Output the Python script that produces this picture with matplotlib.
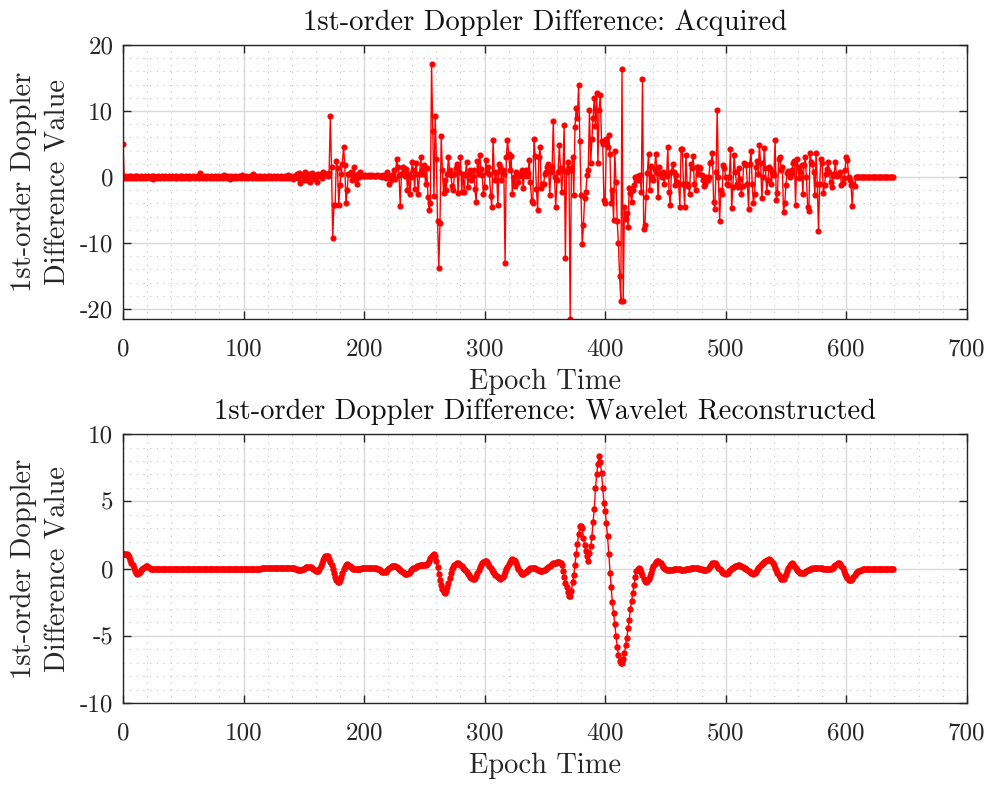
import numpy as np
import matplotlib
matplotlib.use('Agg')
import matplotlib.pyplot as plt
from matplotlib.ticker import MultipleLocator

plt.rcParams['font.family'] = 'cmr10'
plt.rcParams['axes.unicode_minus'] = False

# acquired 1st-order Doppler difference, epochs 0..170 (quiet part)
acq_quiet = [5.0,
    -0.2, 0.1, -0.1, 0.0, 0.2, -0.1, 0.1, -0.2, 0.0, 0.1,
    -0.1, 0.2, 0.0, -0.2, 0.1, 0.0, -0.1, 0.2, -0.1, 0.0,
    0.1, -0.2, 0.0, 0.1, -0.3, 0.1, 0.0, -0.1, 0.2, 0.0,
    -0.1, 0.1, 0.0, -0.2, 0.2, 0.0, -0.1, 0.1, 0.0, -0.2,
    0.1, 0.0, -0.1, 0.2, -0.1, 0.0, 0.1, -0.2, 0.1, 0.0,
    -0.1, 0.2, 0.0, -0.2, 0.1, -0.1, 0.0, 0.1, 0.0, -0.1,
    0.2, 0.0, -0.1, 0.6, 0.0, -0.2, 0.1, 0.0, -0.1, 0.2,
    0.0, -0.2, 0.1, 0.0, -0.1, 0.1, -0.2, 0.0, 0.2, -0.1,
    0.0, 0.1, -0.2, 0.3, 0.0, -0.1, 0.1, 0.0, -0.3, 0.1,
    0.0, -0.1, 0.2, 0.0, -0.1, 0.1, 0.0, -0.2, 0.3, 0.0,
    -0.1, 0.1, 0.0, -0.2, 0.2, 0.0, -0.1, 0.4, 0.0, -0.2,
    0.1, 0.0, -0.1, 0.2, -0.1, 0.0, 0.1, -0.2, 0.0, 0.1,
    -0.1, 0.2, 0.0, -0.1, 0.1, 0.0, -0.2, 0.1, 0.0, -0.1,
    0.2, 0.0, -0.1, 0.1, -0.2, 0.0, 0.3, -0.1, 0.1, 0.0,
    -0.3, 0.2, 0.0, 0.4, -0.2, 0.6, -0.9, 0.3, 0.5, -0.4,
    0.7, 0.1, -0.5, 0.4, -0.8, 0.2, 0.6, 0.0, -0.3, 0.3,
    -0.8, 0.4, 0.2, 0.5, -0.2, 0.7, 0.3, 0.5, 0.4, 0.2]

# epochs 171..311
acq_part2 = [
    0.6, 9.2, 1.5, -9.2, -4.3, -4.3, 2.5, 1.3, -4.3, -1.2,
    0.5, 2.0, 4.6, 1.8, -4.0, -2.0, 0.5, 0.5, 0.8, -0.5,
    0.3, 1.5, -0.3, -1.0, 0.5, 0.0, 0.8, 0.3, 0.2, 0.1,
    0.3, 0.2, 0.2, 0.3, 0.1, 0.2, 0.3, 0.2, 0.1, 0.2,
    0.3, 0.1, 0.2, 0.2, 0.0, 0.3, 0.1, -0.2, 0.8, 0.2,
    -1.0, -0.5, 0.3, 0.0, 1.0, -0.3, 2.7, 1.5, 0.3, -4.4,
    0.5, 1.5, 0.5, 0.2, 1.2, -2.0, 0.5, -2.5, 0.0, 2.3,
    1.0, -1.8, 2.2, 0.5, -2.5, 0.5, 3.0, 1.0, 0.5, 1.8,
    -1.0, 1.3, -3.0, -5.0, -4.0, 17.2, 7.0, -2.8, 9.2, 2.8,
    -6.7, -13.7, -7.0, 6.2, 1.0, -2.4, -0.5, -2.0, 0.5, 3.0,
    1.0, 0.3, -1.3, -2.0, 0.5, 1.4, 2.0, -2.4, 0.8, 3.0,
    -2.2, 0.5, -2.2, 0.3, 2.3, -1.5, 0.5, 1.0, -0.5, 0.2,
    1.0, -1.8, -3.8, 2.5, 0.5, 3.4, 1.2, 0.3, -2.5, -1.5,
    2.6, 0.8, 1.6, 0.5, -2.8, -4.5, 5.6, 0.8, -0.5, 0.8,
    -4.3]

# epochs 312..461
acq_part3 = [
    2.0, 1.6, -0.5, 1.0, 0.5, -13.0, 3.0, 5.6, 3.5, 1.0,
    3.2, -2.6, 0.0, -1.3, 0.8, 0.5, -0.8, 0.4, 0.2, 1.0,
    -1.6, 0.3, 1.0, 0.2, 0.6, 2.6, -0.7, -3.6, -4.0, 5.8,
    3.2, -1.8, -5.0, 3.0, 4.5, -1.7, -1.1, -1.0, 0.5, 0.8,
    1.5, 2.0, -2.7, 0.8, 1.5, 8.5, 0.0, -4.6, -0.5, 0.8,
    4.8, 1.4, -2.3, 1.0, 7.9, -12.3, 0.8, 2.3, 1.3, -21.5,
    1.0, 3.0, -2.7, 7.6, 10.5, 9.0, 14.0, 5.4, -2.7, -10.2,
    -7.3, -3.1, -2.2, 0.3, 1.0, 10.2, 2.2, 5.7, 9.0, 12.0,
    7.8, 12.8, 2.1, 10.2, 12.5, 5.5, 5.0, -3.5, -4.0, 5.7,
    4.5, 6.3, 3.5, -4.0, -2.0, -6.5, 4.0, -0.8, -6.7, -10.0,
    -15.0, -18.7, 16.4, -18.8, -4.5, -6.3, -5.4, -7.5, -1.6, -2.4,
    -3.8, -2.0, -1.2, 0.0, -0.5, 0.2, -0.5, 0.3, -2.3, 14.8,
    -7.9, -7.3, -3.0, 0.6, 3.5, -2.0, 1.7, 0.0, -0.5, 1.2,
    3.5, 0.6, -3.0, 1.5, 0.5, 0.0, 0.8, -1.0, 0.5, 0.2,
    4.6, -2.3, -4.2, 0.8, 2.0, 0.8, -1.2, 0.3, -0.8, -1.0]

# epochs 462..607
acq_part4 = [
    -4.5, 4.2, 4.2, -1.0, -4.5, 3.4, -1.0, -1.3, -2.5, 2.0,
    1.4, 3.2, -1.0, -2.0, 1.6, 0.5, 1.5, 1.3, 0.3, -0.5,
    -1.3, -1.0, 0.0, -0.5, 0.0, 2.2, 2.3, 3.7, -3.8, -4.8,
    0.8, 10.2, 0.0, -6.6, -2.0, -2.6, 1.8, 1.4, 0.0, -1.0,
    -1.2, 0.0, 4.2, -4.7, -1.5, 3.4, 0.8, -1.0, -1.5, 1.3,
    -0.3, -2.6, -1.3, 2.2, 2.0, 1.8, -1.0, -4.8, 2.0, 4.0,
    -1.0, -4.0, -2.6, 1.5, 2.5, 0.5, 4.9, 2.1, -3.2, 0.0,
    4.4, 1.3, -2.2, -0.5, 1.5, 1.2, -1.0, 0.8, 0.3, 5.6,
    -3.5, -2.4, 2.7, 3.1, 1.0, 1.5, -5.3, -4.0, -1.2, 0.6,
    0.9, 0.0, 0.5, 1.0, 2.2, 2.5, -4.2, 2.8, 1.5, -0.2,
    0.8, 1.8, -2.5, 1.8, 3.0, 0.0, -4.5, -5.2, 3.6, 2.3,
    2.0, 0.7, -2.7, 3.6, -1.0, -8.2, -1.0, 2.7, 2.2, -2.4,
    -1.2, 0.5, 1.2, 2.3, 0.8, -0.8, -1.5, 0.2, 0.5, 2.3,
    0.2, 0.5, 0.3, 0.8, -1.2, -0.9, -0.2, 1.0, 3.0, 2.6,
    0.0, -0.5, -1.2, -4.4, -1.0, -1.3]

# epochs 608..639 (flat tail)
acq_tail = [
    0.0, 0.0, 0.0, 0.0, 0.0, 0.0, 0.0, 0.0, 0.0, 0.0,
    0.0, 0.0, 0.0, 0.0, 0.0, 0.0, 0.0, 0.0, 0.0, 0.0,
    0.0, 0.0, 0.0, 0.0, 0.0, 0.0, 0.0, 0.0, 0.0, 0.0,
    0.0, 0.0]

# wavelet reconstructed series, epochs 0..639
wavelet = [
    1.10, 1.12, 1.12, 1.08, 1.00, 0.85, 0.65, 0.45, 0.25, 0.05,
    -0.15, -0.33, -0.40, -0.35, -0.22, -0.10, 0.00, 0.08, 0.15, 0.18,
    0.17, 0.12, 0.06, 0.00, -0.04, -0.06, -0.06, -0.05, -0.04, -0.03,
    -0.03, -0.02, -0.02, -0.02, -0.01, -0.01, -0.01, -0.01, 0.00, 0.00,
    0.00, 0.00, 0.00, 0.00, 0.00, 0.00, 0.00, 0.00, 0.00, 0.00,
    0.00, 0.00, 0.00, 0.00, 0.00, 0.00, 0.00, 0.00, 0.00, 0.00,
    0.00, 0.00, 0.00, 0.00, 0.00, 0.00, 0.00, 0.00, 0.00, 0.00,
    0.00, 0.00, 0.00, 0.00, 0.00, 0.00, 0.00, 0.00, 0.00, 0.00,
    0.00, 0.00, 0.00, 0.00, 0.00, 0.00, 0.00, 0.00, 0.00, 0.00,
    0.00, 0.00, 0.00, 0.00, 0.00, 0.00, 0.00, 0.00, 0.00, 0.00,
    0.00, 0.00, 0.00, 0.00, 0.00, 0.00, 0.00, 0.00, 0.00, 0.00,
    0.00, 0.00, 0.00, 0.00, 0.00, 0.01, 0.01, 0.01, 0.01, 0.01,
    0.01, 0.01, 0.01, 0.01, 0.01, 0.01, 0.02, 0.02, 0.02, 0.02,
    0.02, 0.02, 0.02, 0.03, 0.03, 0.03, 0.04, 0.04, 0.05, 0.05,
    0.05, 0.05, 0.03, 0.00, -0.04, -0.08, -0.10, -0.10, -0.08, -0.04,
    0.00, 0.05, 0.09, 0.11, 0.12, 0.12, 0.10, 0.05, -0.02, -0.10,
    -0.17, -0.20, -0.18, -0.05, 0.18, 0.42, 0.65, 0.82, 0.93, 0.96,
    0.90, 0.75, 0.52, 0.25, -0.02, -0.32, -0.62, -0.86, -0.98, -1.00,
    -0.85, -0.60, -0.30, -0.05, 0.15, 0.27, 0.32, 0.30, 0.22, 0.13,
    0.05, 0.00, -0.03, -0.05, -0.05, -0.04, -0.02, 0.00, 0.02, 0.04,
    0.05, 0.06, 0.07, 0.07, 0.07, 0.06, 0.05, 0.05, 0.04, 0.04,
    0.03, 0.00, -0.05, -0.11, -0.18, -0.23, -0.26, -0.26, -0.22, -0.14,
    -0.05, 0.04, 0.12, 0.18, 0.21, 0.22, 0.20, 0.15, 0.08, 0.00,
    -0.09, -0.18, -0.27, -0.34, -0.39, -0.40, -0.37, -0.30, -0.22, -0.13,
    -0.05, 0.02, 0.07, 0.12, 0.17, 0.21, 0.25, 0.27, 0.28, 0.29,
    0.30, 0.30, 0.33, 0.42, 0.58, 0.76, 0.92, 1.02, 1.05, 0.90,
    0.55, 0.10, -0.40, -0.85, -1.25, -1.55, -1.75, -1.82, -1.70, -1.40,
    -1.05, -0.70, -0.35, -0.05, 0.15, 0.28, 0.36, 0.40, 0.40, 0.36,
    0.28, 0.18, 0.08, -0.03, -0.14, -0.26, -0.38, -0.50, -0.60, -0.68,
    -0.74, -0.75, -0.68, -0.52, -0.32, -0.10, 0.10, 0.28, 0.42, 0.51,
    0.55, 0.54, 0.47, 0.36, 0.22, 0.08, -0.07, -0.22, -0.36, -0.48,
    -0.58, -0.66, -0.72, -0.75, -0.73, -0.62, -0.45, -0.25, -0.05, 0.15,
    0.35, 0.52, 0.65, 0.70, 0.66, 0.55, 0.38, 0.18, -0.02, -0.20,
    -0.33, -0.40, -0.40, -0.35, -0.27, -0.18, -0.10, -0.03, 0.03, 0.06,
    0.07, 0.05, 0.01, -0.04, -0.09, -0.13, -0.16, -0.17, -0.16, -0.12,
    -0.07, -0.01, 0.06, 0.13, 0.20, 0.27, 0.33, 0.38, 0.42, 0.45,
    0.48, 0.50, 0.50, 0.42, 0.25, -0.15, -0.60, -1.05, -1.40, -1.75,
    -2.00, -2.00, -1.70, -1.00, -0.45, 0.30, 1.05, 1.80, 2.60, 3.15,
    3.20, 3.05, 2.30, 1.75, 1.30, 0.95, 0.60, 1.15, 1.65, 2.35,
    3.50, 4.40, 6.00, 7.00, 7.80, 8.40, 7.95, 7.10, 6.00, 4.90,
    4.30, 3.40, 2.40, 1.10, -0.30, -1.40, -2.50, -3.30, -4.10, -5.00,
    -5.80, -6.45, -6.85, -7.00, -7.00, -6.75, -6.30, -5.70, -5.15, -4.40,
    -3.80, -3.00, -2.40, -1.80, -1.20, -0.60, -0.20, 0.00, 0.02, -0.05,
    -0.25, -0.50, -0.75, -0.92, -1.00, -0.95, -0.78, -0.55, -0.30, -0.05,
    0.18, 0.36, 0.50, 0.57, 0.58, 0.50, 0.38, 0.25, 0.12, 0.02,
    -0.06, -0.10, -0.12, -0.12, -0.11, -0.09, -0.07, -0.06, -0.05, -0.05,
    -0.05, -0.05, -0.06, -0.07, -0.07, -0.07, -0.07, -0.06, -0.05, -0.03,
    -0.01, 0.01, 0.03, 0.04, 0.05, 0.05, 0.04, 0.02, 0.00, -0.03,
    -0.06, -0.09, -0.11, -0.12, -0.10, -0.04, 0.06, 0.18, 0.30, 0.38,
    0.42, 0.40, 0.32, 0.20, 0.06, -0.06, -0.14, -0.22, -0.29, -0.34,
    -0.37, -0.36, -0.30, -0.20, -0.08, 0.02, 0.08, 0.14, 0.19, 0.23,
    0.25, 0.25, 0.23, 0.18, 0.12, 0.06, 0.02, -0.03, -0.10, -0.18,
    -0.26, -0.32, -0.36, -0.37, -0.33, -0.24, -0.12, 0.02, 0.14, 0.24,
    0.33, 0.42, 0.50, 0.57, 0.62, 0.66, 0.68, 0.67, 0.60, 0.45,
    0.28, 0.08, -0.10, -0.30, -0.48, -0.64, -0.75, -0.80, -0.75, -0.58,
    -0.38, -0.15, 0.08, 0.25, 0.35, 0.38, 0.33, 0.20, 0.05, -0.08,
    -0.18, -0.25, -0.30, -0.32, -0.32, -0.29, -0.24, -0.18, -0.12, -0.07,
    -0.03, 0.00, 0.02, 0.03, 0.04, 0.05, 0.05, 0.05, 0.04, 0.03,
    0.01, -0.02, -0.04, -0.05, -0.05, -0.04, -0.03, -0.01, 0.02, 0.08,
    0.16, 0.26, 0.35, 0.41, 0.42, 0.35, 0.20, 0.02, -0.18, -0.38,
    -0.56, -0.72, -0.83, -0.87, -0.84, -0.74, -0.60, -0.46, -0.36, -0.28,
    -0.21, -0.15, -0.11, -0.07, -0.05, -0.04, -0.03, -0.02, -0.02, -0.01,
    -0.01, -0.01, 0.00, 0.00, 0.00, 0.00, 0.00, 0.00, 0.00, 0.00,
    0.00, 0.00, 0.00, 0.00, 0.00, 0.00, 0.00, 0.00, 0.00, 0.00]

acquired = np.array(acq_quiet + acq_part2 + acq_part3 + acq_part4 + acq_tail)
wavelet = np.array(wavelet)
epoch_acq = np.arange(len(acquired))
epoch_wav = np.arange(len(wavelet))

DARK = '#262626'


def style(ax, title, ylo, yhi, ymaj, ymin):
    ax.set_xlim(0, 700)
    ax.set_ylim(ylo, yhi)
    ax.xaxis.set_major_locator(MultipleLocator(100))
    ax.xaxis.set_minor_locator(MultipleLocator(20))
    ax.yaxis.set_major_locator(MultipleLocator(ymaj))
    ax.yaxis.set_minor_locator(MultipleLocator(ymin))
    ax.set_axisbelow(True)
    ax.grid(which='major', color='#d9d9d9', lw=1.0)
    ax.grid(which='minor', color='#c4c4c4', lw=0.8, ls=(0, (1, 5)))
    ax.tick_params(which='major', direction='in', length=6, width=1.0,
                   top=True, right=True, labelsize=18, color=DARK,
                   labelcolor=DARK)
    ax.tick_params(axis='x', which='major', pad=14)
    ax.tick_params(axis='y', which='major', pad=7)
    ax.tick_params(which='minor', length=0)
    for sp in ax.spines.values():
        sp.set_color(DARK)
        sp.set_linewidth(1.0)
    ax.set_title(title, fontsize=20.5, pad=11, color='#111111')
    ax.set_xlabel('Epoch Time', fontsize=20.5, color=DARK, labelpad=6)
    ax.set_ylabel('1st-order Doppler\nDifference Value', fontsize=20.5,
                  color=DARK, labelpad=6, linespacing=1.4)


fig = plt.figure(figsize=(9.95, 7.9), dpi=100)

ax1 = fig.add_axes([0.1236, 0.5962, 0.848, 0.3468])
ax1.plot(epoch_acq, acquired, '-o', color='red', lw=1.0, ms=3.4)
style(ax1, '1st-order Doppler Difference: Acquired', -21.5, 20, 10, 2)

ax2 = fig.add_axes([0.1236, 0.110, 0.848, 0.3405])
ax2.plot(epoch_wav, wavelet, '-o', color='red', lw=1.0, ms=3.6)
style(ax2, '1st-order Doppler Difference: Wavelet Reconstructed', -10, 10, 5, 1)

fig.savefig('out.png', dpi=100)
